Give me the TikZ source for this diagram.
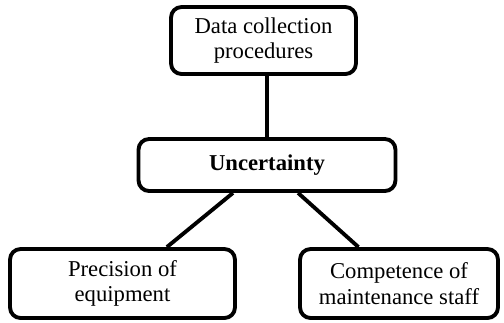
\documentclass[tikz,border=0pt]{standalone}
\usepackage{fontspec}
\setmainfont{Liberation Serif}
\usetikzlibrary{positioning}
\begin{document}
\begin{tikzpicture}[
  x=0.02cm,y=-0.02cm,
  box/.style={rounded corners=6pt,draw=black,line width=2.2pt,align=center,inner sep=0pt,font=\fontsize{12.9}{14.6}\selectfont},
  hub/.style={box,font=\fontsize{12.9}{14.6}\selectfont\bfseries},
  link/.style={line width=2.2pt,draw=black}
]
\useasboundingbox (0,0) rectangle (504,322);
\node[box,minimum width=3.70cm,minimum height=1.34cm] (data) at (263.5,40.5) {Data collection\\procedures};
\node[hub,minimum width=5.14cm,minimum height=1.04cm] (unc) at (267,165) {Uncertainty};
\node[box,minimum width=4.50cm,minimum height=1.38cm] (prec) at (122.5,283.5) {Precision of\\equipment};
\node[box,minimum width=3.96cm,minimum height=1.38cm] (comp) at (399,283.5) {Competence of\\maintenance staff};
\draw[link] (unc.north) -- (unc.north |- data.south);
\draw[link] (unc) -- (prec);
\draw[link] (unc) -- (comp);
\end{tikzpicture}
\end{document}
